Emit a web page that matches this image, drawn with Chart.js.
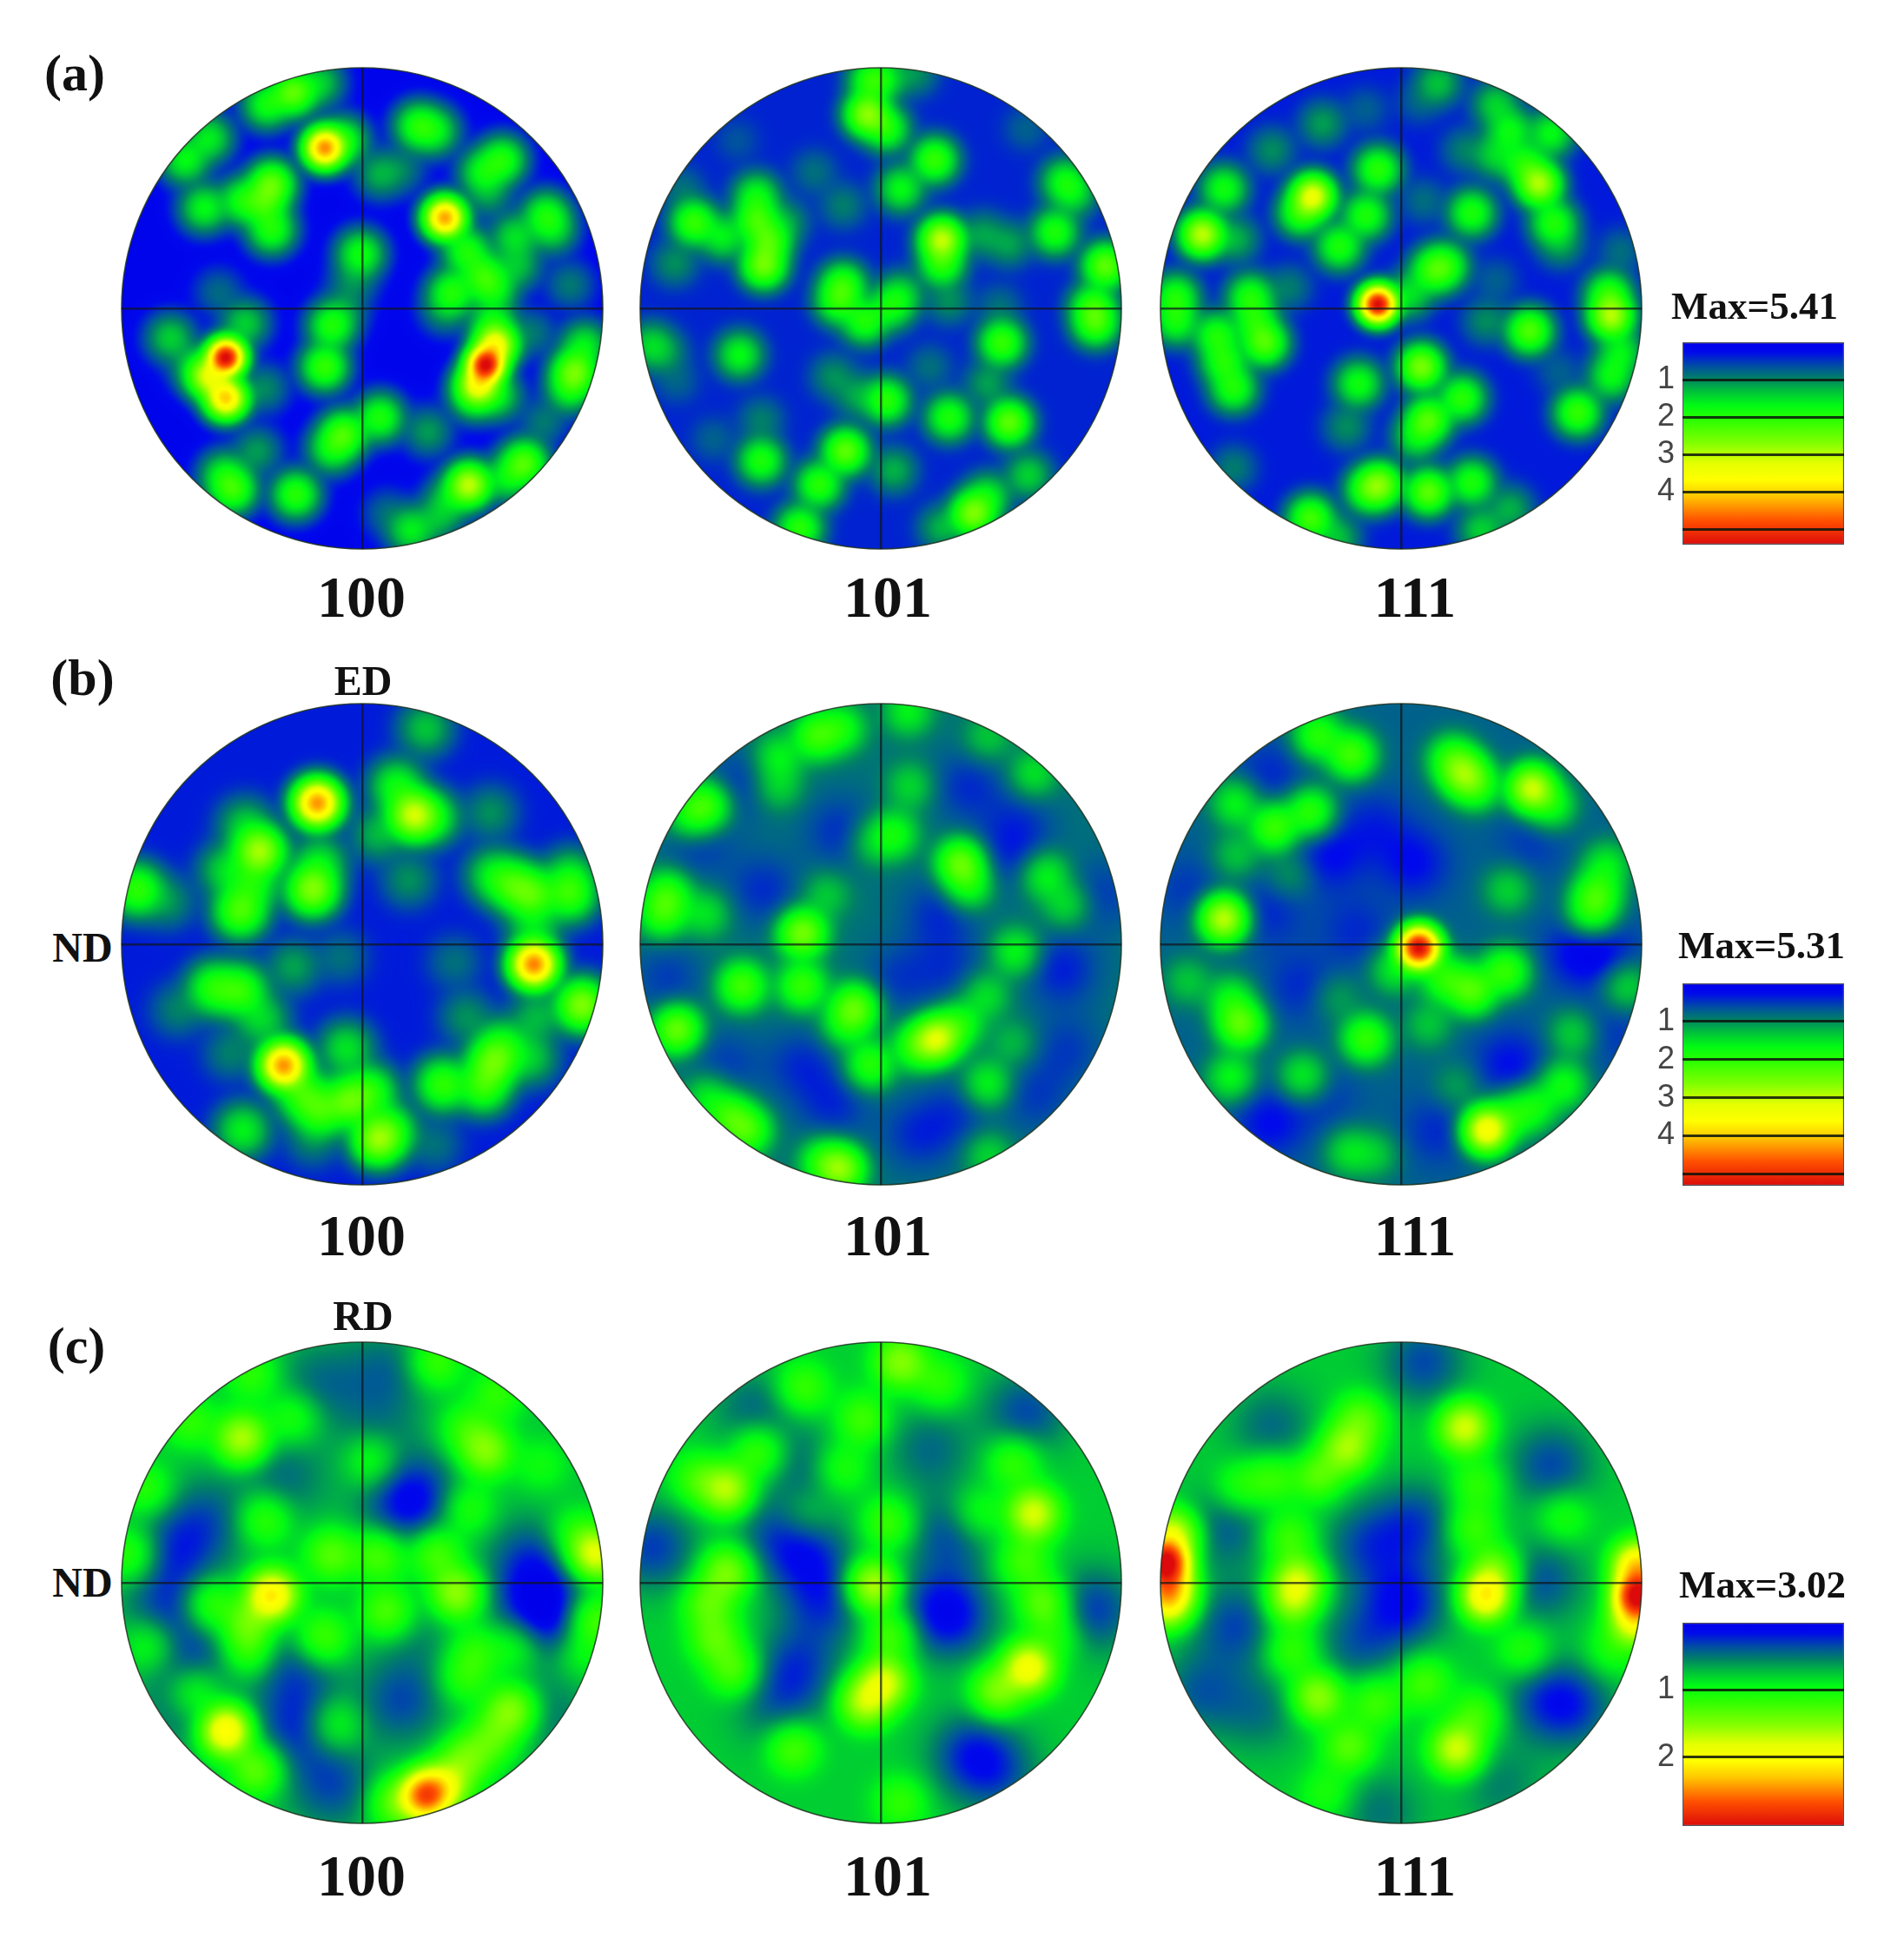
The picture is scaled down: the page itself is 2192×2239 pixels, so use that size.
<!DOCTYPE html>
<html>
<head>
<meta charset="utf-8">
<title>Pole figures</title>
<script src="https://cdn.jsdelivr.net/npm/chart.js@4"></script>
<style>
  html, body { margin: 0; background: #fff; }
  #page { position: relative; width: 2192px; height: 2239px; overflow: hidden; }
  canvas { position: absolute; }
  .lbl { position: absolute; transform: translate(-50%, -50%); white-space: nowrap; color: #111;
         font-family: "Liberation Serif", serif; font-weight: bold; line-height: 1; }
</style>
</head>
<body>
<div id="page"></div>
<script>
/* Pole figures: each peak is [x, y, level], x and y in % of the figure radius, level in m.r.d. */

const poleNames = ["100", "101", "111"];
const rowNames = ["(a)", "(b)", "(c)"];
const maxLevels = [5.41, 5.31, 3.02];
const barTicks = [[1, 2, 3, 4, 5], [1, 2, 3, 4, 5], [1, 2]];
const baseLevels = [[0.1, 0.4, 0.35], [0.35, 0.85, 0.75], [0.75, 0.78, 0.78]];

const peaksA100 = [[-29,90,2.4],[-40,85,1.8],[-18,94,1.4],[-64,71,1.6],[-74,62,1.7],[-16,67,4.4],[-8,70,1.8],[23,76,1.9],[30,74,1.6],
  [58,62,1.9],[50,57,1.7],[52,48,1.1],[76,39,1.8],[79,33,1.4],[-38,52,2.4],[-50,45,1.8],[-66,42,1.7],[-38,33,1.9],[-41,44,2],
  [7,56,1.2],[16,58,0.9],[34,38,4.3],[43,24,1.9],[50,14,2],[37,7,1.9],[63,30,1.5],[64,18,1.3],[54,8,1.7],[34,0,1.1],[-1,23,1.8],
  [-4,12,1],[-60,7,0.8],[86,10,0.9],[-80,-12,1.4],[-49,-6,1.4],[-57,-20,5.4],[-64,-28,3.2],[-57,-37,4],[-41,-33,1],[-70,-24,1.3],
  [-13,-7,1.9],[-16,-24,2.1],[-8,0,1],[51,-23,5.3],[55,-15,3.5],[48,-31,3.4],[54,-6,1.7],[46,-36,1.8],[56,-36,1.5],[70,-10,0.9],
  [88,-26,2.5],[92,-15,1.6],[86,-33,1.7],[-8,-52,2.2],[7,-45,1.9],[-13,-58,1.7],[27,-51,1.1],[75,-47,0.9],[-44,-59,1.1],
  [-54,-75,2.1],[-58,-69,1.6],[-28,-77,2],[44,-73,3],[36,-79,1.4],[67,-64,2.3],[60,-70,1.6],[20,-92,1.6],[10,-85,0.8],[31,-87,1.2]];
const peaksA101 = [[-6,81,2.7],[2,75,1.9],[-4,95,2],[2,96,1.3],[14,98,1],[22,62,2.1],[8,50,1.7],[76,53,1.7],[80,48,1.4],[72,32,1.9],
  [53,27,1.1],[42,31,1.1],[25,29,3],[25,19,2],[-78,36,2.1],[-66,30,1.6],[-52,37,2.1],[-47,28,2.2],[-49,18,2.5],[-52,47,1.7],
  [-40,36,1.1],[-86,19,1],[-16,43,0.9],[-28,57,0.8],[93,18,2.4],[88,1,2],[89,-6,2.1],[-16,10,2],[-18,3,1.9],[-7,-5,1.9],[4,1,1.7],
  [8,6,1.4],[28,3,1],[50,-14,2.1],[49,1,0.8],[-59,-19,1.7],[-90,-18,1],[-96,-15,1.4],[20,-24,0.8],[2,-38,2],[-10,-36,1.1],
  [-20,-28,1],[44,-31,1.1],[28,-45,1.9],[53,-47,2.4],[-50,-46,0.9],[-15,-59,2.4],[5,-67,1.2],[-50,-63,1.9],[-26,-73,2],
  [-34,-91,2],[38,-85,2.6],[44,-78,1.6],[61,-69,1.4],[25,-91,1.2],[-85,-30,0.7],[-70,-54,0.7],[-60,70,0.6],[-83,50,0.8],[60,75,0.7]];
const peaksA111 = [[-10,2,5.4],[13,16,2],[18,18,1.9],[3,6,1.5],[-10,58,2],[-37,47,3.3],[-42,40,2],[-15,39,1.9],[-26,26,1.9],[29,40,1.9],
  [9,45,0.8],[-33,77,1.1],[-54,66,1],[-15,83,0.7],[-74,50,1.8],[-83,31,3],[-69,29,1.2],[-94,5,1.9],[-94,-5,1.8],[-63,5,1.9],[-47,9,0.9],
  [-57,-14,2.3],[-61,-5,1.8],[-77,-11,1.9],[-74,-22,1.9],[-70,-33,1.9],[-18,-31,1.8],[-23,-49,1],[8,-24,2.6],[25,-37,2],[11,-46,2.3],
  [6,-53,1.6],[-9,-73,2.5],[-14,-75,2],[11,-76,2.4],[29,-72,1.9],[-38,-87,2.2],[-27,-95,1.3],[-70,-66,0.9],[33,-92,1.4],[45,-83,1.2],
  [73,-43,2.1],[87,-28,1.7],[87,-3,2.9],[86,6,2],[91,-18,1.6],[53,-9,2.3],[35,-5,1],[65,-26,0.7],[57,52,2.9],[63,36,1.9],[51,60,1.9],
  [39,64,1.4],[26,66,0.9],[45,74,1.7],[39,85,1.4],[62,73,1.7],[15,94,1.3],[66,27,1.1],[91,24,0.8],[39,12,0.7],[7,86,0.7]];

const peaksB100 = [[-19,59,4.3],[-43,39,2.8],[-49,50,1.3],[-57,31,1.4],[-51,14,2.2],[-46,25,1.7],[-21,23,2.6],[-18,34,1.5],[21,54,3],
  [14,66,1.7],[29,53,1.6],[6,46,1.2],[26,90,1.3],[53,55,1],[19,27,1],[62,25,2],[70,21,2.2],[54,29,1.5],[86,21,2],[86,29,1.4],[71,7,1.4],
  [71,-8,4.4],[91,-25,2.6],[72,-30,1.2],[43,-30,1],[38,-7,0.8],[-94,23,2],[-81,18,1],[-29,-9,1.1],[-9,-5,0.8],[-62,-18,1.9],[-51,-19,2],
  [-77,-27,0.9],[-55,-45,0.9],[-42,-31,1.4],[-33,-50,4.3],[-25,-62,2],[-18,-69,2],[-7,-43,1.5],[-6,-65,2.3],[-50,-77,1.6],[6,-81,2.6],
  [3,-61,1.9],[11,-77,1.8],[30,-83,0.8],[-21,-81,0.9],[33,-58,2],[54,-49,2.3],[50,-59,2],[58,-42,1.7],[70,-47,1.3]];
const peaksB101 = [[-17,47,-0.5],[36,66,-0.5],[-49,23,-0.5],[24,13,-0.5],[75,-10,-0.6],[53,37,-0.4],[57,50,-0.4],[-76,42,-0.4],[-59,67,-0.4],
  [-65,-50,-0.4],[-33,-50,-0.5],[-20,-67,-0.5],[15,-79,-0.5],[31,-70,-0.4],[64,-63,-0.4],[-89,-14,-0.4],[7,-14,-0.4],[28,-10,-0.4],[91,21,-0.4],[77,-43,-0.4],
  [-27,87,2],[-43,78,1.5],[-17,90,1.7],[-43,66,1.3],[-73,58,2.1],[-79,54,1.7],[-89,21,1.9],[-91,13,1.9],[-73,13,1.4],[12,66,1.3],[5,46,1.7],
  [-4,43,1.3],[33,34,2.4],[36,25,1.8],[68,29,1.6],[77,17,1.4],[63,71,1.4],[44,86,1.2],[11,97,1.5],[-33,5,2.5],[-23,21,1.2],[56,-3,1.6],
  [43,-21,1.4],[-58,-17,2.1],[-33,-17,2],[-11,-26,2.3],[-15,-33,1.6],[-85,-35,2.4],[23,-39,3],[15,-42,2],[32,-33,1.8],[-5,-50,1.9],
  [44,-58,1.6],[-63,-71,2],[-56,-77,2.1],[-72,-63,1.5],[-17,-93,2.6],[-24,-90,1.8],[44,-87,1.3],[55,-41,1.1]];
const peaksB111 = [[-55,71,-0.4],[-30,37,-0.6],[5,34,-0.6],[45,-50,-0.6],[-55,-74,-0.6],[74,-3,-0.6],[85,-3,-0.4],[-55,14,-0.4],[-11,50,-0.4],[54,43,-0.3],
  [-89,23,-0.3],[-42,-17,-0.4],[15,-77,-0.4],[89,-37,-0.3],[-33,-63,-0.3],[-19,6,-0.4],
  [-35,87,1.9],[-21,79,2.1],[26,71,2.5],[21,77,1.9],[31,66,1.8],[54,65,3],[62,58,1.7],[-69,59,1.6],[-53,49,2.1],[-38,55,2],[-69,37,1.2],
  [-46,29,1],[-74,11,3],[44,23,1.3],[81,21,2],[85,33,1.5],[79,13,1.9],[7,-1,5.3],[43,-11,2],[29,-19,2.2],[18,-14,1.9],[-3,-10,1.5],
  [-89,-15,1.2],[93,-17,1.4],[-67,-33,2.3],[-71,-23,1.6],[-27,-22,1],[-15,-39,2],[11,-33,1.2],[-71,-55,1.6],[-41,-55,1.6],[71,-37,1.3],
  [67,-58,1.7],[55,-67,1.7],[35,-77,3.5],[45,-71,1.8],[-22,-86,1.4],[-11,-87,1.2],[23,-59,1]];

const peaksC100 = [[-78,13,-0.5],[-65,27,-0.4],[70,9,-0.55],[72,-11,-0.6],[80,-15,-0.4],[23,37,-0.5],[16,31,-0.4],[-28,-36,-0.45],[-28,-60,-0.55],
  [-13,-84,-0.5],[16,-49,-0.5],[-81,-11,-0.5],[-69,-31,-0.4],[-18,83,-0.35],[10,89,-0.35],[-33,44,-0.35],[-77,-53,-0.3],[77,-56,-0.3],[6,65,-0.25],[23,-23,-0.2],
  [-50,60,1.6],[-90,39,1],[-96,12,1.1],[51,55,1.4],[43,64,1],[-29,69,1],[-46,87,1],[-72,67,1],[30,92,1.1],[56,79,1],[74,49,0.8],[-41,27,1.1],
  [-13,12,1.2],[7,12,1.2],[30,13,1.2],[4,51,1],[43,31,1],[-38,-5,2.1],[-64,-9,1.2],[-48,-17,1.3],[-48,-28,1.1],[39,-4,1.5],[10,-12,1.2],
  [-17,-23,1.2],[47,-28,1],[42,-39,1],[96,12,1.8],[88,20,1],[95,-15,1.3],[90,-28,0.9],[64,-25,1],[-57,-61,2.1],[-70,-45,1.1],[-44,-77,1.3],
  [-12,-59,1],[-88,-25,1],[26,-88,2.6],[14,-91,1.3],[43,-73,1.3],[62,-53,1.5],[54,-64,1.2],[34,-84,1.7]];
const peaksC101 = [[-31,12,-0.55],[-44,21,-0.4],[-24,-8,-0.55],[-35,-35,-0.55],[-44,-52,-0.35],[24,-11,-0.55],[28,20,-0.5],[37,-71,-0.6],[60,71,-0.55],
  [-95,15,-0.6],[88,-11,-0.6],[-53,72,-0.4],[-32,49,-0.35],[20,56,-0.4],[49,-79,-0.4],[31,-15,-0.4],
  [-64,39,1.6],[-51,55,1.2],[-76,43,1.1],[-64,5,1.4],[-72,-8,1.2],[-61,-36,1.2],[-69,-23,1.2],[-4,-1,1.7],[3,25,1.1],[-8,68,1.1],[8,92,1.4],
  [-33,81,1.1],[24,83,1],[-17,48,1],[1,-41,1.7],[-7,-49,1.6],[4,-21,1.2],[63,29,1.7],[55,51,1.1],[40,29,0.95],[59,9,1.1],[68,-8,1.3],
  [61,-35,1.9],[48,-45,1.4],[73,-21,1],[-37,-68,1.2],[8,-91,1],[-32,28,0.8]];
const peaksC111 = [[1,-8,-0.75],[-15,16,-0.5],[6,25,-0.55],[-69,-17,-0.55],[-73,23,-0.45],[62,49,-0.55],[58,1,-0.5],[71,-51,-0.55],[-18,-25,-0.45],
  [9,92,-0.55],[-54,65,-0.4],[-84,-45,-0.45],[-59,-53,-0.35],[58,-48,-0.4],[-9,-95,-0.35],[41,-84,-0.3],
  [-98,9,3],[-97,-1,2.2],[-97,-8,1.8],[-95,20,1.8],[98,-5,3],[98,7,2.2],[97,-15,1.9],[26,65,1.7],[-23,56,1.5],[-17,68,1.2],[-35,45,1.2],
  [-54,44,1.1],[-67,40,1],[35,-5,2.1],[39,5,1.4],[29,23,1.1],[31,41,1],[-43,1,1.6],[-46,-7,1.5],[-47,19,1.1],[-35,-47,1.5],[-46,-28,1.1],
  [-22,-68,1.2],[-11,-49,1.1],[23,-69,1.7],[9,-41,1.1],[31,-55,1.1],[67,28,0.95],[51,-28,1],[87,-28,0.9],[-31,-87,0.9]];

const peakTable = [
  [peaksA100, peaksA101, peaksA111],
  [peaksB100, peaksB101, peaksB111],
  [peaksC100, peaksC101, peaksC111],
];

// layout of the page
const colX = [417, 1014, 1613];
const rowY = [355, 1087, 1822];
const poleR = 277;
const rowSigma = [9, 10.5, 12.5];
const blend = 2.7;
const holeGain = 0.8;
const colorStops = [
  [0, 0, 0, 235], [0.05, 0, 10, 235], [0.12, 0, 80, 160], [0.18, 0, 130, 100], [0.24, 0, 190, 60], [0.31, 0, 250, 20], [0.38, 40, 255, 0],
  [0.5, 130, 255, 0], [0.6, 230, 255, 0], [0.68, 255, 255, 0], [0.76, 255, 200, 0], [0.88, 255, 80, 0], [1, 220, 10, 10],
];

const page = document.getElementById("page");

function colorAt(t) {
  t = Math.max(0, Math.min(1, t));
  for (let i = 1; i < colorStops.length; i++) {
    const a = colorStops[i - 1];
    const b = colorStops[i];
    if (t <= b[0]) {
      const k = (t - a[0]) / (b[0] - a[0]);
      return [a[1] + (b[1] - a[1]) * k, a[2] + (b[2] - a[2]) * k, a[3] + (b[3] - a[3]) * k];
    }
  }
  return colorStops[colorStops.length - 1].slice(1);
}

function addCanvas(left, top, w, h) {
  const c = document.createElement("canvas");
  c.width = w;
  c.height = h;
  c.style.left = left + "px";
  c.style.top = top + "px";
  c.style.width = w + "px";
  c.style.height = h + "px";
  page.appendChild(c);
  return c;
}

function addLabel(text, x, y, size) {
  const d = document.createElement("div");
  d.className = "lbl";
  d.textContent = text;
  d.style.left = x + "px";
  d.style.top = y + "px";
  d.style.fontSize = size + "px";
  page.appendChild(d);
}

// Paints the density field behind the axes, from the dataset's points through the scales
const fieldPlugin = {
  id: "field",
  beforeDraw(chart, args, opts) {
    const { ctx, scales } = chart;
    const x0 = scales.x.getPixelForValue(0);
    const y0 = scales.y.getPixelForValue(0);
    const R = scales.x.getPixelForValue(100) - x0;
    const sigma = (opts.sigma * R) / 100;
    const pts = chart.data.datasets[0].data.map((p) => {
      // strong peaks are tighter than weak ones
      const s = sigma * (1.06 - (0.35 * Math.abs(p.level)) / opts.max);
      return {
        px: scales.x.getPixelForValue(p.x),
        py: scales.y.getPixelForValue(p.y),
        v: p.level,
        amp: Math.pow(Math.abs(p.level), blend),
        k: blend / (2 * s * s),
      };
    });
    const ups = pts.filter((p) => p.v > 0);
    const downs = pts.filter((p) => p.v < 0);
    const step = 2;
    const n = Math.ceil((2 * R) / step) + 2;
    const off = document.createElement("canvas");
    off.width = n;
    off.height = n;
    const octx = off.getContext("2d");
    const img = octx.createImageData(n, n);
    const baseAmp = Math.pow(opts.base, blend);
    const kDown = 0.5 / (sigma * sigma);
    for (let j = 0; j < n; j++) {
      const py = y0 - R + j * step;
      for (let i = 0; i < n; i++) {
        const px = x0 - R + i * step;
        let sum = baseAmp;
        for (const p of ups) {
          const d2 = (px - p.px) * (px - p.px) + (py - p.py) * (py - p.py);
          sum += p.amp * Math.exp(-p.k * d2);
        }
        let val = Math.pow(sum, 1 / blend);
        for (const p of downs) {
          const d2 = (px - p.px) * (px - p.px) + (py - p.py) * (py - p.py);
          val += holeGain * p.v * Math.exp(-kDown * d2);
        }
        const c = colorAt(val / opts.max);
        const o = (j * n + i) * 4;
        img.data[o] = c[0];
        img.data[o + 1] = c[1];
        img.data[o + 2] = c[2];
        img.data[o + 3] = 255;
      }
    }
    octx.putImageData(img, 0, 0);
    ctx.save();
    ctx.beginPath();
    ctx.arc(x0, y0, R, 0, Math.PI * 2);
    ctx.clip();
    ctx.imageSmoothingEnabled = true;
    ctx.imageSmoothingQuality = "high";
    ctx.drawImage(off, x0 - R, y0 - R, n * step, n * step);
    ctx.restore();
    ctx.save();
    ctx.beginPath();
    ctx.arc(x0, y0, R, 0, Math.PI * 2);
    ctx.strokeStyle = "rgba(30,50,30,0.85)";
    ctx.lineWidth = 1.6;
    ctx.stroke();
    ctx.restore();
  },
};

function poleChart(r, c) {
  const pad = 6;
  const size = poleR * 2 + pad * 2;
  const canvas = addCanvas(colX[c] - poleR - pad, rowY[r] - poleR - pad, size, size);
  const axis = {
    type: "linear",
    min: -100,
    max: 100,
    ticks: { display: false, stepSize: 100 },
    border: { display: false },
    grid: {
      drawTicks: false,
      lineWidth: 2.5,
      color: (ctx) => (ctx.tick && ctx.tick.value === 0 ? "rgba(15,20,25,0.7)" : "rgba(0,0,0,0)"),
    },
  };
  new Chart(canvas, {
    type: "scatter",
    data: {
      datasets: [{
        label: rowNames[r] + " " + poleNames[c],
        data: peakTable[r][c].map((p) => ({ x: p[0], y: p[1], level: p[2] })),
        pointRadius: 0,
      }],
    },
    options: {
      responsive: false,
      animation: false,
      devicePixelRatio: 1,
      layout: { padding: pad },
      plugins: {
        legend: { display: false },
        tooltip: { enabled: false },
        field: { max: maxLevels[r], base: baseLevels[r][c], sigma: rowSigma[r] },
      },
      scales: { x: axis, y: { ...axis } },
    },
    plugins: [fieldPlugin],
  });
}

function barChart(r, top, bottom) {
  const left = 1937;
  const right = 2123;
  const axisW = 47;
  const pad = 22;
  const canvas = addCanvas(left - axisW - 2, top - pad, right - left + axisW + 6, bottom - top + pad * 2);
  const maxV = maxLevels[r];
  new Chart(canvas, {
    type: "bar",
    data: {
      labels: ["Max=" + maxV],
      datasets: [{
        data: [[0, maxV]],
        barPercentage: 1,
        categoryPercentage: 1,
        borderWidth: 1.5,
        borderColor: "rgba(40,40,50,0.8)",
        borderSkipped: false,
        backgroundColor: (ctx) => {
          const area = ctx.chart.chartArea;
          if (!area) return "#00f";
          const g = ctx.chart.ctx.createLinearGradient(0, area.top, 0, area.bottom);
          colorStops.forEach((s) => g.addColorStop(s[0], `rgb(${s[1]},${s[2]},${s[3]})`));
          return g;
        },
      }],
    },
    options: {
      responsive: false,
      animation: false,
      devicePixelRatio: 1,
      layout: { padding: { top: pad, bottom: pad, left: 2, right: 4 } },
      plugins: { legend: { display: false }, tooltip: { enabled: false } },
      scales: {
        x: { display: false },
        y: {
          min: 0,
          max: maxV,
          reverse: true,
          afterBuildTicks: (scale) => {
            scale.ticks = barTicks[r].map((v) => ({ value: v }));
          },
          afterFit: (scale) => {
            scale.width = axisW;
            scale.paddingTop = 0;
            scale.paddingBottom = 0;
          },
          border: { display: false },
          ticks: {
            autoSkip: false,
            padding: 9,
            color: "#454545",
            font: { family: "'Liberation Sans', sans-serif", size: 36 },
            callback: (v) => (v < 5 ? String(v) : ""),
          },
          grid: { z: 1, drawTicks: false, color: "rgba(10,20,10,0.85)", lineWidth: 3 },
        },
      },
    },
  });
}

rowNames.forEach((name, r) => {
  poleNames.forEach((p, c) => poleChart(r, c));
});

barChart(0, 394, 627);
barChart(1, 1132, 1365);
barChart(2, 1868, 2102);

// Text around the figures
const nameX = [416, 1022, 1629];
const nameY = [687, 1422, 2159];
nameY.forEach((y) => poleNames.forEach((p, c) => addLabel(p, nameX[c], y, 68)));

addLabel("(a)", 86, 84, 60);
addLabel("(b)", 95, 780, 60);
addLabel("(c)", 88, 1549, 60);
addLabel("ED", 418, 784, 48);
addLabel("RD", 418, 1515, 48);
addLabel("ND", 95, 1091, 48);
addLabel("ND", 95, 1822, 48);
addLabel("Max=" + maxLevels[0], 2020, 352, 45);
addLabel("Max=" + maxLevels[1], 2028, 1088, 45);
addLabel("Max=" + maxLevels[2], 2029, 1824, 45);
</script>
</body>
</html>
